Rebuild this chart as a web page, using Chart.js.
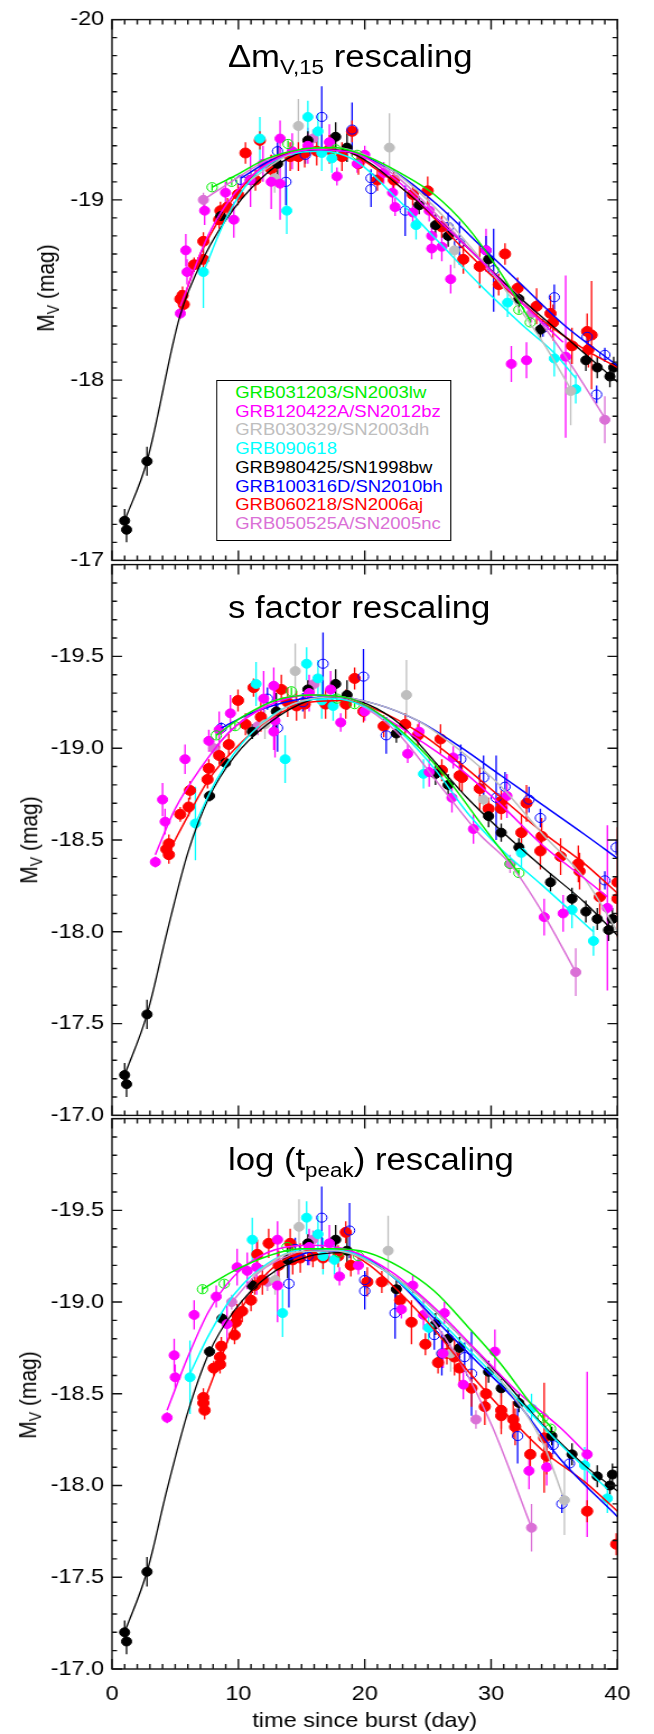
<!DOCTYPE html>
<html>
<head>
<meta charset="utf-8">
<script src="https://cdn.jsdelivr.net/npm/chart.js@4.4.1/dist/chart.umd.min.js"></script>
<style>
html, body { margin: 0; padding: 0; background: #fff; overflow: hidden; width: 654px; height: 1734px; }
#wrap { position: absolute; left: 0; top: 0; width: 584px; height: 1734px; transform: scaleX(1.12); transform-origin: 0 0;
  font-family: "Liberation Sans", Arial, Helvetica, sans-serif; color: #000; }
canvas { position: absolute; left: 0; }
.ttl { position: absolute; left: 203.5px; font-size: 31px; line-height: 31px; white-space: nowrap; }
.ttl sub { font-size: 20px; vertical-align: -7px; line-height: 0; }
.ylab { position: absolute; font-size: 21px; line-height: 21px; white-space: nowrap; transform: translate(-50%, -50%) rotate(-90deg); }
.ylab sub { font-size: 14px; vertical-align: -4px; line-height: 0; }
#legend { position: absolute; left: 193px; top: 380px; width: 210px; height: 161px; box-sizing: border-box; border: 1px solid #000;
  padding: 2px 0 0 16px; font-size: 16.5px; line-height: 18.7px; white-space: nowrap; background: #fff; }
</style>
</head>
<body>
<div id="wrap">
  <canvas id="c1"></canvas>
  <canvas id="c2"></canvas>
  <canvas id="c3"></canvas>
  <div class="ttl" style="top:41px">&Delta;m<sub>V,15</sub> rescaling</div>
  <div class="ttl" style="top:592px">s factor rescaling</div>
  <div class="ttl" style="top:1144px">log (t<sub>peak</sub>) rescaling</div>
  <div class="ylab" style="left:41px;top:288px">M<sub>V</sub> (mag)</div>
  <div class="ylab" style="left:26px;top:840px">M<sub>V</sub> (mag)</div>
  <div class="ylab" style="left:25px;top:1395px">M<sub>V</sub> (mag)</div>
  <div id="legend"></div>
</div>
<script>
// series order follows the legend
const names = ['GRB031203/SN2003lw', 'GRB120422A/SN2012bz', 'GRB030329/SN2003dh', 'GRB090618',
  'GRB980425/SN1998bw', 'GRB100316D/SN2010bh', 'GRB060218/SN2006aj', 'GRB050525A/SN2005nc'];
const colors = ['#00ee00', '#ff00ff', '#bebebe', '#00ffff', '#000000', '#0000ff', '#ff0000', '#da70d6'];
const openMarker = [true, false, false, false, false, true, false, false];

const xTicks = [0, 10, 20, 30, 40];

// ---- panel 1 : delta m15 rescaling  [day, mag, err]
const p1Green = [[7.92,-19.07,.02],[9.47,-19.10,.02],[13.93,-19.31,.02],[17.7,-19.28,.02],[19.4,-19.25,.02],[32.2,-18.39,.02],[33.1,-18.32,.02]];
const p1Magenta = [[5.41,-18.37,.03],[5.84,-18.72,.09],[5.94,-18.60,.07],[7.33,-18.94,.08],[8.98,-19.04,.06],[9.64,-18.89,.1],[10.96,-19.11,.15],[11.95,-19.20,.1],[12.6,-19.10,.15],[13.3,-19.34,.1],[13.3,-19.09,.2],[14.26,-19.27,.1],[15.5,-19.30,.1],[17.2,-19.32,.1],[17.8,-19.13,.05],[19.4,-19.20,.05],[20.0,-19.25,.05],[21.5,-19.15,.06],[22.2,-19.04,.06],[22.4,-18.96,.05],[23.8,-18.93,.08],[25.1,-18.94,.06],[25.3,-18.80,.06],[25.3,-18.73,.06],[26.1,-18.74,.08],[26.8,-18.56,.08],[29.6,-18.72,.12],[31.6,-18.09,.1],[32.8,-18.11,.1],[35.9,-18.13,.45]];
const p1Grey = [[12.87,-19.12,.08],[14.75,-19.41,.15],[21.95,-19.29,.19],[27.1,-18.72,.1],[36.3,-17.94,.19]];
const p1Cyan = [[7.23,-18.60,.2],[11.7,-19.34,.12],[13.83,-18.94,.13],[15.5,-19.46,.09],[16.3,-19.38,.1],[16.6,-19.26,.1],[17.4,-19.23,.08],[24.06,-18.86,.08],[31.3,-18.43,.08],[35.0,-18.12,.1],[36.7,-17.95,.08]];
const p1Black = [[1.0,-17.22,.065],[1.15,-17.17,.07],[2.77,-17.55,.08],[8.6,-18.91,.03],[10.96,-19.11,.04],[13.1,-19.20,.1],[15.5,-19.33,.05],[17.7,-19.35,.08],[18.6,-19.29,.08],[24.3,-18.97,.05],[25.6,-18.86,.06],[26.6,-18.80,.06],[29.8,-18.67,.06],[32.2,-18.45,.05],[33.9,-18.28,.05],[37.5,-18.11,.06],[38.4,-18.07,.06],[39.4,-18.02,.06],[39.7,-18.07,.06]];
const p1Blue = [[10.2,-19.11,.03],[13.1,-19.27,.06],[13.76,-19.10,.13],[15.3,-19.25,.05],[16.6,-19.46,.17],[19.0,-19.39,.15],[20.5,-19.12,.05],[20.5,-19.06,.1],[23.2,-18.94,.14],[26.6,-18.85,.08],[27.5,-18.76,.12],[29.6,-18.72,.08],[30.2,-18.61,.23],[34.1,-18.29,.05],[35.0,-18.46,.07],[37.6,-18.24,.05],[38.35,-17.92,.05],[39.0,-18.14,.04]];
const p1Red = [[5.41,-18.45,.05],[5.68,-18.42,.05],[5.58,-18.47,.05],[6.5,-18.64,.04],[7.23,-18.67,.05],[7.23,-18.77,.05],[8.48,-18.89,.05],[8.58,-18.94,.05],[9.14,-18.96,.05],[9.97,-19.03,.06],[10.56,-19.26,.06],[11.35,-19.11,.06],[11.7,-19.33,.05],[12.6,-19.17,.08],[14.1,-19.24,.08],[14.75,-19.24,.08],[15.25,-19.26,.08],[16.2,-19.27,.08],[17.2,-19.28,.08],[18.2,-19.24,.08],[19.0,-19.38,.06],[19.5,-19.20,.06],[21.0,-19.11,.06],[22.3,-19.11,.06],[23.8,-19.03,.06],[24.98,-19.05,.08],[26.1,-18.85,.06],[27.8,-18.67,.08],[29.1,-18.63,.12],[30.6,-18.53,.06],[31.1,-18.70,.06],[32.1,-18.51,.06],[33.6,-18.41,.1],[34.7,-18.37,.1],[34.9,-18.32,.1],[36.4,-18.19,.1],[37.6,-18.27,.1],[37.7,-18.17,.1],[37.95,-18.25,.3]];
const p1Orchid = [[7.23,-19.00,.04],[10.96,-19.11,.05],[15.9,-19.34,.05],[33.2,-18.37,.05],[39.0,-17.78,.13]];

const f1Green = [[7.92,-19.07],[9.64,-19.13],[12.3,-19.23],[14.9,-19.28],[17.56,-19.29],[20.2,-19.24],[22.8,-19.15],[25.5,-19.03],[28.1,-18.85],[30.8,-18.59],[33.1,-18.33]];
const f1Magenta = [[5.4,-18.41],[7.66,-18.81],[9.64,-19.03],[12.3,-19.20],[15.9,-19.28],[19.2,-19.26],[22.5,-19.11],[25.8,-18.89],[29.1,-18.67],[32.4,-18.43],[35.7,-18.21]];
const f1Grey = [[10.96,-19.11],[14.26,-19.26],[17.56,-19.29],[20.86,-19.22],[24.2,-19.05],[27.5,-18.81],[30.8,-18.53],[34.1,-18.21],[36.3,-17.95]];
const f1Cyan = [[7.23,-18.60],[8.98,-18.89],[10.96,-19.11],[13.6,-19.24],[16.6,-19.27],[19.2,-19.22],[22.5,-19.01],[25.8,-18.77],[29.1,-18.53],[32.4,-18.31],[35.0,-18.15],[36.7,-18.01]];
const f1Black = [[1.0,-17.22],[2.77,-17.55],[5.35,-18.35],[7.33,-18.69],[9.64,-18.95],[12.3,-19.15],[14.5,-19.25],[16.5,-19.28],[18.5,-19.27],[20.5,-19.20],[22.5,-19.09],[25.8,-18.89],[29.1,-18.67],[32.4,-18.45],[35.7,-18.25],[40,-17.99]];
const f1Blue = [[10.2,-19.12],[12.6,-19.22],[15.9,-19.28],[19.2,-19.26],[22.5,-19.15],[25.8,-18.97],[29.1,-18.75],[32.4,-18.53],[35.7,-18.31],[40,-18.08]];
const f1Red = [[5.4,-18.39],[6.67,-18.65],[8.3,-18.87],[10.3,-19.07],[12.6,-19.22],[15.9,-19.28],[18.5,-19.27],[20.9,-19.17],[24.2,-18.99],[27.5,-18.75],[30.8,-18.53],[34.1,-18.33],[37.4,-18.17],[40,-18.07]];
const f1Orchid = [[7.23,-19.00],[9.64,-19.11],[12.6,-19.23],[15.9,-19.28],[19.2,-19.26],[22.5,-19.13],[25.8,-18.91],[29.1,-18.67],[32.4,-18.45],[35.7,-18.15],[39.0,-17.79]];

// ---- panel 2 : s factor rescaling
const p2Green = [[8.25,-19.07,.02],[9.74,-19.12,.02],[14.2,-19.31,.02],[17.8,-19.27,.02],[19.2,-19.24,.02],[31.5,-18.37,.02],[32.2,-18.32,.02]];
const p2Magenta = [[3.43,-18.38,.03],[4.0,-18.72,.09],[4.2,-18.60,.07],[5.78,-18.94,.08],[7.66,-19.04,.06],[8.48,-19.10,.1],[9.37,-19.19,.1],[12.0,-19.27,.15],[12.8,-19.34,.1],[12.9,-19.15,.2],[12.8,-19.09,.1],[15.6,-19.30,.1],[17.3,-19.32,.1],[18.1,-19.14,.05],[20.0,-19.20,.05],[23.4,-18.97,.05],[24.3,-19.09,.06],[25.1,-18.87,.08],[27.0,-18.95,.06],[26.9,-18.73,.08],[28.6,-18.56,.08],[31.25,-18.74,.12],[34.2,-18.08,.1],[35.7,-18.10,.1],[39.2,-18.13,.45]];
const p2Grey = [[12.1,-19.13,.08],[14.5,-19.42,.15],[23.3,-19.29,.19],[29.4,-18.72,.1]];
const p2Cyan = [[6.6,-18.59,.2],[11.4,-19.35,.12],[13.7,-18.94,.13],[15.4,-19.46,.09],[16.3,-19.38,.1],[16.6,-19.26,.1],[17.5,-19.23,.08],[24.65,-18.86,.08],[32.4,-18.43,.08],[36.4,-18.12,.1],[38.1,-17.95,.08]];
const p2Black = [[1.0,-17.22,.065],[1.15,-17.17,.07],[2.77,-17.55,.08],[7.72,-18.74,.03],[8.98,-18.92,.03],[11.1,-19.09,.04],[13.0,-19.20,.1],[15.5,-19.32,.05],[17.7,-19.35,.08],[18.6,-19.29,.08],[22.5,-19.08,.05],[25.6,-18.86,.06],[26.6,-18.80,.06],[29.8,-18.63,.06],[30.8,-18.54,.05],[32.2,-18.46,.05],[34.7,-18.27,.05],[36.4,-18.18,.06],[37.5,-18.11,.06],[38.4,-18.07,.06],[39.3,-18.01,.06],[39.6,-18.07,.06]];
const p2Blue = [[8.65,-19.11,.03],[12.3,-19.27,.06],[13.1,-19.11,.13],[15.1,-19.25,.05],[16.7,-19.46,.17],[19.9,-19.39,.15],[21.7,-19.07,.1],[27.6,-18.94,.08],[29.4,-18.84,.12],[30.4,-18.73,.23],[31.1,-18.79,.08],[33.0,-18.72,.07],[33.9,-18.62,.05],[39.0,-18.28,.05],[39.9,-18.46,.04]];
const p2Red = [[4.3,-18.45,.05],[4.5,-18.48,.05],[4.5,-18.42,.05],[5.4,-18.64,.04],[6.07,-18.68,.05],[6.17,-18.77,.05],[7.56,-18.83,.05],[7.66,-18.89,.05],[8.48,-18.96,.05],[9.24,-19.02,.06],[9.97,-19.26,.06],[10.56,-19.13,.06],[11.2,-19.33,.05],[11.78,-19.17,.08],[13.4,-19.32,.08],[13.9,-19.25,.08],[14.6,-19.23,.08],[15.25,-19.24,.08],[16.9,-19.24,.08],[18.5,-19.24,.08],[19.2,-19.38,.06],[19.9,-19.20,.06],[21.5,-19.12,.06],[23.2,-19.13,.06],[24.2,-19.07,.06],[26.0,-19.05,.08],[26.1,-18.88,.06],[27.5,-18.85,.08],[27.7,-18.84,.08],[29.1,-18.78,.12],[29.8,-18.67,.06],[30.8,-18.67,.06],[30.8,-18.71,.06],[32.4,-18.54,.1],[32.8,-18.70,.1],[33.9,-18.44,.1],[34.0,-18.52,.1],[35.5,-18.41,.1],[36.9,-18.37,.1],[37.0,-18.33,.1],[38.6,-18.19,.1],[40.0,-18.27,.3],[40.0,-18.18,.1]];
const p2Orchid = [[8.05,-19.00,.04],[11.55,-19.12,.05],[16.0,-19.35,.05],[31.5,-18.37,.05],[36.7,-17.78,.13]];

const f2Green = [[8.25,-19.07],[10.3,-19.17],[12.9,-19.26],[15.9,-19.29],[18.9,-19.27],[21.5,-19.17],[24.2,-19.01],[26.8,-18.81],[29.4,-18.57],[32.2,-18.32]];
const f2Magenta = [[3.43,-18.42],[5.0,-18.67],[7.0,-18.89],[9.3,-19.09],[12.3,-19.23],[15.6,-19.29],[18.9,-19.27],[21.5,-19.17],[24.2,-19.05],[27.5,-18.89],[30.8,-18.69],[34.1,-18.47],[37.4,-18.29],[39.2,-18.19]];
const f2Grey = [[11.6,-19.12],[14.3,-19.24],[17.56,-19.28],[20.9,-19.24],[24.2,-19.15],[27.5,-18.99],[30.8,-18.79],[34.1,-18.53],[37.4,-18.29],[40,-18.0]];
const f2Cyan = [[6.6,-18.59],[8.3,-18.83],[11.0,-19.08],[14.3,-19.24],[17.56,-19.27],[20.2,-19.22],[22.8,-19.09],[25.5,-18.89],[28.1,-18.65],[30.8,-18.45],[34.1,-18.25],[38.1,-18.00]];
const f2Black = [[1.0,-17.22],[2.77,-17.55],[4.36,-18.0],[6.0,-18.43],[7.66,-18.73],[9.64,-18.95],[12.3,-19.13],[15.6,-19.26],[17.56,-19.28],[20.2,-19.24],[22.8,-19.13],[25.5,-18.93],[28.1,-18.73],[30.8,-18.55],[34.1,-18.35],[37.4,-18.16],[40,-17.98]];
const f2Blue = [[8.65,-19.11],[11.0,-19.19],[14.3,-19.26],[17.56,-19.28],[20.9,-19.24],[24.2,-19.15],[27.5,-19.01],[30.8,-18.85],[34.1,-18.69],[37.4,-18.53],[40,-18.40]];
const f2Red = [[4.3,-18.41],[6.0,-18.63],[7.66,-18.83],[9.64,-18.99],[12.3,-19.15],[15.6,-19.25],[18.5,-19.26],[20.9,-19.21],[24.2,-19.09],[27.5,-18.92],[30.8,-18.73],[34.1,-18.54],[37.4,-18.37],[40,-18.21]];
const f2Orchid = [[8.05,-19.00],[10.3,-19.15],[12.9,-19.26],[15.9,-19.29],[19.2,-19.25],[22.5,-19.09],[25.8,-18.81],[29.1,-18.53],[31.5,-18.37],[34.2,-18.09],[36.7,-17.78]];

// ---- panel 3 : log(t_peak) rescaling
const p3Green = [[7.16,-19.07,.02],[8.88,-19.10,.02],[13.86,-19.30,.02],[17.95,-19.27,.02],[19.5,-19.25,.02],[34.1,-18.37,.02],[34.7,-18.31,.02]];
const p3Magenta = [[4.36,-18.37,.03],[4.92,-18.71,.09],[5.0,-18.59,.07],[6.5,-18.93,.08],[8.25,-19.03,.06],[9.1,-18.88,.1],[9.9,-19.19,.1],[10.7,-19.17,.1],[11.45,-19.19,.15],[13.1,-19.34,.1],[13.1,-19.09,.2],[15.6,-19.30,.1],[17.2,-19.32,.1],[18.0,-19.14,.05],[19.5,-19.20,.05],[22.9,-18.96,.05],[23.8,-19.09,.06],[24.65,-18.93,.08],[26.3,-18.94,.06],[26.2,-18.72,.08],[27.8,-18.55,.08],[30.3,-18.73,.12],[33.0,-18.08,.1],[34.4,-18.10,.1],[37.6,-18.17,.45]];
const p3Grey = [[12.9,-19.12,.08],[14.8,-19.41,.15],[21.85,-19.28,.19],[26.8,-18.72,.1],[35.8,-17.92,.19]];
const p3Cyan = [[6.17,-18.59,.2],[11.1,-19.34,.12],[13.5,-18.94,.13],[15.4,-19.46,.09],[16.3,-19.37,.1],[16.7,-19.25,.1],[17.6,-19.23,.08],[25.05,-18.86,.08],[33.2,-18.42,.08],[37.4,-18.11,.1],[39.2,-17.93,.08]];
const p3Black = [[1.0,-17.20,.065],[1.15,-17.15,.07],[2.77,-17.53,.08],[7.72,-18.73,.03],[8.7,-18.91,.03],[11.1,-19.09,.04],[13.9,-19.23,.1],[15.5,-19.32,.05],[17.7,-19.34,.08],[18.6,-19.28,.08],[22.5,-19.07,.05],[25.6,-18.88,.06],[26.6,-18.80,.06],[27.5,-18.75,.06],[29.8,-18.62,.06],[30.8,-18.53,.05],[32.2,-18.45,.05],[34.8,-18.27,.05],[36.4,-18.17,.06],[38.4,-18.05,.06],[39.4,-18.00,.06],[39.6,-18.06,.06]];
const p3Blue = [[14.0,-19.10,.13],[14.5,-19.29,.06],[15.5,-19.25,.05],[16.6,-19.46,.17],[18.8,-19.39,.15],[20.0,-19.12,.05],[20.0,-19.06,.1],[22.4,-18.94,.14],[25.5,-18.82,.08],[26.1,-18.72,.12],[27.9,-18.70,.08],[28.45,-18.61,.23],[32.1,-18.27,.15],[34.9,-18.22,.05],[35.6,-17.90,.05],[36.2,-18.12,.04]];
const p3Red = [[7.23,-18.45,.05],[7.33,-18.41,.05],[7.23,-18.48,.05],[8.05,-18.64,.04],[8.55,-18.66,.05],[8.55,-18.70,.05],[8.65,-18.76,.05],[9.7,-18.82,.05],[9.8,-18.89,.05],[9.9,-18.93,.06],[10.3,-18.95,.06],[11.0,-19.01,.06],[11.3,-19.09,.05],[11.5,-19.26,.08],[11.9,-19.12,.08],[12.4,-19.32,.08],[13.2,-19.20,.08],[14.1,-19.32,.08],[14.3,-19.23,.08],[14.9,-19.24,.08],[15.9,-19.25,.06],[16.7,-19.24,.06],[17.9,-19.25,.06],[18.5,-19.38,.06],[18.9,-19.20,.06],[20.2,-19.11,.08],[21.35,-19.11,.06],[22.8,-19.01,.08],[23.7,-18.89,.12],[24.8,-18.77,.06],[25.8,-18.67,.06],[26.5,-18.72,.06],[27.1,-18.70,.1],[27.5,-18.64,.1],[28.45,-18.53,.1],[29.5,-18.43,.1],[29.6,-18.50,.1],[30.8,-18.38,.1],[30.8,-18.41,.1],[31.75,-18.36,.1],[31.9,-18.32,.1],[33.1,-18.17,.1],[34.2,-18.26,.3],[34.4,-18.16,.1],[37.6,-17.86,.06],[39.9,-17.68,.06]];
const p3Orchid = [[9.47,-19.00,.04],[12.3,-19.11,.05],[15.9,-19.34,.05],[28.8,-18.36,.05],[33.2,-17.77,.13]];

const f3Green = [[7.16,-19.07],[9.64,-19.17],[12.3,-19.25],[14.9,-19.29],[17.56,-19.29],[20.2,-19.27],[22.8,-19.19],[25.5,-19.06],[28.1,-18.87],[30.8,-18.66],[33.1,-18.45],[34.7,-18.32]];
const f3Magenta = [[4.36,-18.41],[6.0,-18.70],[7.66,-18.95],[9.64,-19.14],[12.3,-19.27],[15.6,-19.31],[18.9,-19.28],[22.2,-19.16],[25.5,-18.97],[28.8,-18.74],[32.1,-18.51],[35.4,-18.32],[37.6,-18.17]];
const f3Grey = [[11.0,-19.14],[14.26,-19.27],[17.56,-19.28],[20.9,-19.20],[24.2,-19.04],[27.5,-18.82],[30.8,-18.57],[34.1,-18.23],[35.8,-17.92]];
const f3Cyan = [[6.17,-18.61],[7.66,-18.82],[9.64,-19.04],[12.3,-19.21],[15.6,-19.29],[18.9,-19.27],[22.2,-19.14],[25.5,-18.93],[28.8,-18.70],[32.1,-18.47],[35.4,-18.23],[39.2,-17.98]];
const f3Black = [[1.0,-17.20],[2.77,-17.53],[4.36,-17.98],[6.0,-18.40],[7.66,-18.72],[9.64,-18.95],[12.3,-19.14],[15.6,-19.25],[18.2,-19.27],[20.9,-19.20],[24.2,-19.04],[27.5,-18.82],[30.8,-18.59],[34.1,-18.33],[37.4,-18.11],[40,-17.97]];
const f3Blue = [[14.0,-19.23],[16.2,-19.28],[18.9,-19.27],[22.2,-19.14],[25.5,-18.91],[28.8,-18.68],[32.1,-18.45],[35.4,-18.15],[40,-17.83]];
const f3Red = [[7.23,-18.45],[8.65,-18.70],[10.3,-18.97],[12.3,-19.16],[14.9,-19.27],[17.56,-19.29],[20.2,-19.21],[22.8,-19.05],[25.5,-18.85],[28.1,-18.63],[30.8,-18.42],[34.1,-18.19],[37.4,-18.02],[40,-17.86]];
const f3Orchid = [[9.47,-19.00],[11.6,-19.16],[14.26,-19.26],[16.9,-19.29],[19.5,-19.26],[22.2,-19.14],[24.8,-18.95],[27.5,-18.68],[30.1,-18.32],[33.2,-17.77]];

const panel1 = { pts: [p1Green, p1Magenta, p1Grey, p1Cyan, p1Black, p1Blue, p1Red, p1Orchid],
                 fits: [f1Green, f1Magenta, f1Grey, f1Cyan, f1Black, f1Blue, f1Red, f1Orchid] };
const panel2 = { pts: [p2Green, p2Magenta, p2Grey, p2Cyan, p2Black, p2Blue, p2Red, p2Orchid],
                 fits: [f2Green, f2Magenta, f2Grey, f2Cyan, f2Black, f2Blue, f2Red, f2Orchid] };
const panel3 = { pts: [p3Green, p3Magenta, p3Grey, p3Cyan, p3Black, p3Blue, p3Red, p3Orchid],
                 fits: [f3Green, f3Magenta, f3Grey, f3Cyan, f3Black, f3Blue, f3Red, f3Orchid] };

const SX = 1.12;   // page is stretched horizontally by this factor
Chart.defaults.font.family = '"Liberation Sans", Arial, Helvetica, sans-serif';
Chart.defaults.color = '#000';

// error bars, drawn under the markers
const errorBars = {
  id: 'errorBars',
  beforeDatasetsDraw(chart) {
    const { ctx, chartArea: a, scales: { x, y } } = chart;
    ctx.save();
    ctx.beginPath(); ctx.rect(a.left, a.top, a.width, a.height); ctx.clip();
    ctx.lineWidth = 1.3;
    chart.data.datasets.forEach(ds => {
      if (ds.showLine) return;
      ctx.strokeStyle = ds.borderColor;
      ds.data.forEach(p => {
        const px = x.getPixelForValue(p.x);
        ctx.beginPath();
        ctx.moveTo(px, y.getPixelForValue(p.y - p.e));
        ctx.lineTo(px, y.getPixelForValue(p.y + p.e));
        ctx.stroke();
      });
    });
    ctx.restore();
  }
};

// box with inward ticks on all four sides
const frame = {
  id: 'frame',
  afterDraw(chart, args, opts) {
    const { ctx, chartArea: a, scales: { x, y } } = chart;
    ctx.save();
    ctx.strokeStyle = '#111';
    ctx.lineWidth = 1.4;
    ctx.strokeRect(a.left, a.top, a.width, a.height);
    ctx.beginPath();
    for (let d = 0; d <= 40; d++) {
      const px = x.getPixelForValue(d);
      const L = d % 10 === 0 ? 10 : 5;
      ctx.moveTo(px, a.bottom); ctx.lineTo(px, a.bottom - L);
      ctx.moveTo(px, a.top); ctx.lineTo(px, a.top + L);
    }
    for (let k = 0; k <= 30; k++) {
      const py = y.getPixelForValue(-20 + k / 10);
      const L = (k % opts.major === 0 ? 10 : 5) / SX;
      ctx.moveTo(a.left, py); ctx.lineTo(a.left + L, py);
      ctx.moveTo(a.right, py); ctx.lineTo(a.right - L, py);
    }
    ctx.stroke();
    ctx.restore();
  }
};

function buildDatasets(panel) {
  const sets = [];
  panel.fits.forEach((f, i) => {
    sets.push({
      label: names[i] + ' fit',
      data: f.map(p => ({ x: p[0], y: p[1] })),
      showLine: true, borderColor: colors[i], borderWidth: i === 4 ? 1.3 : 1.5,
      pointRadius: 0, cubicInterpolationMode: 'monotone', order: 0
    });
  });
  panel.pts.forEach((pts, i) => {
    sets.push({
      label: names[i],
      data: pts.map(p => ({ x: p[0], y: p[1], e: p[2] })),
      showLine: false, borderColor: colors[i],
      pointBackgroundColor: openMarker[i] ? 'rgba(0,0,0,0)' : colors[i],
      pointBorderColor: colors[i], pointBorderWidth: 1,
      pointRadius: i === 6 ? 5 : (openMarker[i] ? 4.6 : 4.5), order: 1
    });
  });
  return sets;
}

function makePanel(id, top, height, pad, panel, bottomAxis, major) {
  const cv = document.getElementById(id);
  cv.width = 584; cv.height = height;
  cv.style.width = '584px'; cv.style.height = height + 'px'; cv.style.top = top + 'px';
  const xScale = {
    type: 'linear', min: 0, max: 40, display: bottomAxis,
    grid: { display: false, drawTicks: false }, border: { display: false },
    afterBuildTicks: s => { s.ticks = xTicks.map(v => ({ value: v })); },
    ticks: { font: { size: 21 }, padding: 13, maxRotation: 0 },
    title: { display: true, text: 'time since burst (day)', font: { size: 21 }, padding: { top: 0, bottom: 0 } }
  };
  if (bottomAxis) xScale.afterFit = s => { s.height = 65; };
  new Chart(cv, {
    type: 'scatter',
    data: { datasets: buildDatasets(panel) },
    options: {
      responsive: false, animation: false,
      layout: { padding: { left: 0, right: 32.7, top: pad.top, bottom: pad.bottom } },
      plugins: { legend: { display: false }, tooltip: { enabled: false }, frame: { major: major } },
      scales: {
        x: xScale,
        y: {
          type: 'linear', min: -20, max: -17, reverse: true,
          grid: { display: false, drawTicks: false }, border: { display: false },
          ticks: {
            stepSize: major === 10 ? 1 : 0.5, font: { size: 21 }, padding: 7,
            callback: v => major === 10 ? String(v) : (v === -20 ? '' : v.toFixed(1))
          },
          afterFit: s => { s.width = 100; }
        }
      }
    },
    plugins: [errorBars, frame]
  });
}

makePanel('c1', 0, 580, { top: 11, bottom: 17 }, panel1, false, 10);
makePanel('c2', 545, 590, { top: 18, bottom: 18 }, panel2, false, 5);
makePanel('c3', 1099, 635, { top: 18, bottom: 0 }, panel3, true, 5);

// legend: coloured names only
const lg = document.getElementById('legend');
names.forEach((n, i) => {
  const d = document.createElement('div');
  d.textContent = n;
  d.style.color = colors[i];
  lg.appendChild(d);
});
</script>
</body>
</html>
